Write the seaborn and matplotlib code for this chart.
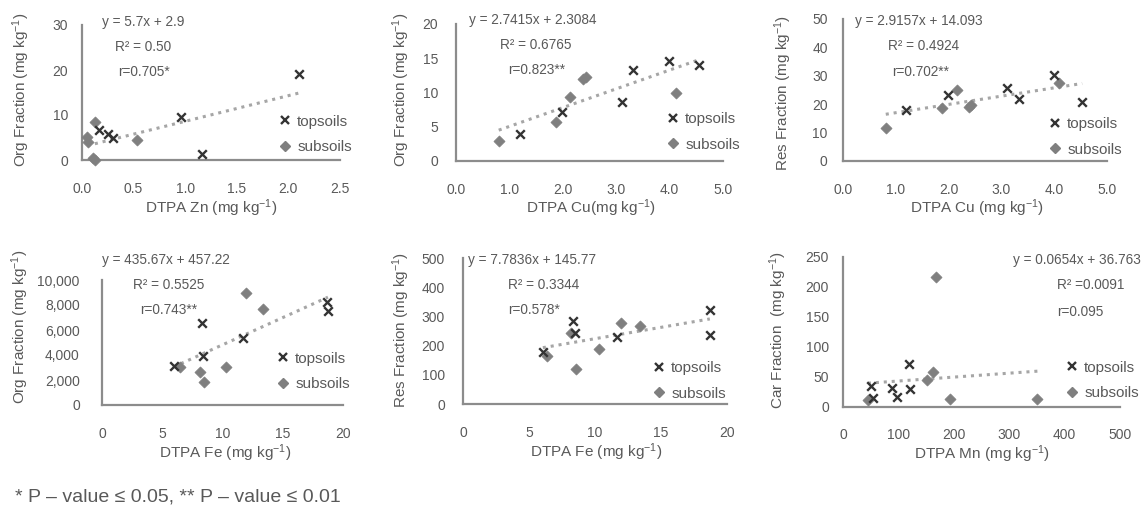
import numpy as np
import pandas as pd
import matplotlib
matplotlib.use("Agg")
import matplotlib.pyplot as plt
import matplotlib.transforms as mtransforms
from matplotlib.lines import Line2D
import seaborn as sns

# ---------------- data ----------------
layers = ["topsoils", "subsoils"]

zn_top_x = [0.16, 0.25, 0.30, 0.96, 1.16, 2.10]
zn_top_y = [6.7, 5.8, 4.9, 9.5, 1.3, 19.1]
zn_sub_x = [0.05, 0.06, 0.11, 0.13, 0.13, 0.53]
zn_sub_y = [5.1, 4.0, 0.5, 8.4, 0.0, 4.4]

cuo_top_x = [1.19, 1.99, 3.11, 3.31, 3.99, 4.55]
cuo_top_y = [3.9, 7.2, 8.6, 13.3, 14.6, 14.0]
cuo_sub_x = [0.80, 1.88, 2.14, 2.38, 2.43, 4.12]
cuo_sub_y = [2.9, 5.7, 9.3, 12.0, 12.3, 9.9]

cur_top_x = [1.19, 1.99, 3.11, 3.33, 4.00, 4.53]
cur_top_y = [17.9, 23.2, 25.7, 22.0, 30.4, 20.8]
cur_sub_x = [0.81, 1.88, 2.16, 2.38, 2.43, 4.09]
cur_sub_y = [11.6, 18.5, 24.9, 19.0, 19.6, 27.3]

feo_top_x = [5.95, 8.30, 8.40, 11.70, 18.70, 18.75]
feo_top_y = [3120, 6530, 3920, 5390, 8270, 7520]
feo_sub_x = [6.45, 8.15, 8.45, 10.30, 11.95, 13.40]
feo_sub_y = [3010, 2670, 1870, 3070, 8990, 7650]

fer_top_x = [6.05, 8.30, 8.50, 11.70, 18.70, 18.70]
fer_top_y = [178, 284, 244, 230, 322, 238]
fer_sub_x = [6.40, 8.20, 8.55, 10.30, 11.95, 13.40]
fer_sub_y = [163, 244, 121, 187, 276, 267]

mn_top_x = [51, 54, 88, 97, 119, 121]
mn_top_y = [35, 15, 32, 17, 72, 30]
mn_sub_x = [45, 152, 162, 168, 193, 351]
mn_sub_y = [12, 45, 58, 216, 13, 13]

slopes = [5.7, 2.7415, 2.9157, 435.67, 7.7836, 0.0654]
intercepts = [2.9, 2.3084, 14.093, 457.22, 145.77, 36.763]
eq_texts = ["y = 5.7x + 2.9", "y = 2.7415x + 2.3084", "y = 2.9157x + 14.093",
            "y = 435.67x + 457.22", "y = 7.7836x + 145.77", "y = 0.0654x + 36.763"]
r2_texts = ["R² = 0.50", "R² = 0.6765", "R² = 0.4924",
            "R² = 0.5525", "R² = 0.3344", "R² =0.0091"]
r_texts = ["r=0.705*", "r=0.823**", "r=0.702**", "r=0.743**", "r=0.578*", "r=0.095"]

x_labels = ["DTPA Zn (mg kg$^{-1}$)", "DTPA Cu(mg kg$^{-1}$)", "DTPA Cu (mg kg$^{-1}$)",
            "DTPA Fe (mg kg$^{-1}$)", "DTPA Fe (mg kg$^{-1}$)", "DTPA Mn (mg kg$^{-1}$)"]
y_labels = ["Org Fraction (mg kg$^{-1}$)", "Org Fraction (mg kg$^{-1}$)", "Res Fraction (mg kg$^{-1}$)",
            "Org Fraction (mg kg$^{-1}$)", "Res Fraction (mg kg$^{-1}$)", "Car Fraction  (mg kg$^{-1}$)"]

x_ticks = [[0.0, 0.5, 1.0, 1.5, 2.0, 2.5], [0, 1, 2, 3, 4, 5], [0, 1, 2, 3, 4, 5],
           [0, 5, 10, 15, 20], [0, 5, 10, 15, 20], [0, 100, 200, 300, 400, 500]]
x_ticklabels = [["0.0", "0.5", "1.0", "1.5", "2.0", "2.5"],
                ["0.0", "1.0", "2.0", "3.0", "4.0", "5.0"],
                ["0.0", "1.0", "2.0", "3.0", "4.0", "5.0"],
                ["0", "5", "10", "15", "20"], ["0", "5", "10", "15", "20"],
                ["0", "100", "200", "300", "400", "500"]]
y_ticks = [[0, 10, 20, 30], [0, 5, 10, 15, 20], [0, 10, 20, 30, 40, 50],
           [0, 2000, 4000, 6000, 8000, 10000], [0, 100, 200, 300, 400, 500],
           [0, 50, 100, 150, 200, 250]]
y_ticklabels = [["0", "10", "20", "30"], ["0", "5", "10", "15", "20"],
                ["0", "10", "20", "30", "40", "50"],
                ["0", "2,000", "4,000", "6,000", "8,000", "10,000"],
                ["0", "100", "200", "300", "400", "500"],
                ["0", "50", "100", "150", "200", "250"]]
footnote = "* P – value ≤ 0.05, ** P – value ≤ 0.01"

panels = [
    (zn_top_x, zn_top_y, zn_sub_x, zn_sub_y),
    (cuo_top_x, cuo_top_y, cuo_sub_x, cuo_sub_y),
    (cur_top_x, cur_top_y, cur_sub_x, cur_sub_y),
    (feo_top_x, feo_top_y, feo_sub_x, feo_sub_y),
    (fer_top_x, fer_top_y, fer_sub_x, fer_sub_y),
    (mn_top_x, mn_top_y, mn_sub_x, mn_sub_y),
]

# ---------------- layout (pixels, top-left origin) ----------------
W, H = 1145, 508
axes_px = [(82, 340, 25, 160), (456, 723, 24, 161), (843, 1107, 19, 161),
           (102, 343, 280, 405), (463, 727, 258, 404), (843, 1120, 257, 407)]
ytick_pad = [10, 13, 11, 16, 13, 10]
xtick_pad = [16, 16, 16, 16, 16, 15]
xlabel_pos = [(211, 208), (591, 208), (977, 208), (225, 453), (596, 452), (982, 454)]
ylabel_pos = [(21, 90), (401, 90), (783, 93), (20, 327), (401, 330), (778, 330)]
eq_pos = [[(102, 22), (115, 47), (118, 72)],
          [(469, 20), (500, 45), (508, 70)],
          [(855, 21), (888, 46), (892, 72)],
          [(102, 260), (133, 285), (140, 310)],
          [(468, 260), (508, 285), (508, 310)],
          [(1013, 260), (1057, 285), (1057, 312)]]
legend_pos = [(285, 134.5), (673, 132), (1055, 137), (283, 371.5), (659, 381), (1072, 380.5)]

sns.set_theme(style="white")
plt.rcParams["font.family"] = ["Liberation Sans", "DejaVu Sans"]
plt.rcParams["mathtext.fontset"] = "custom"
plt.rcParams["mathtext.rm"] = "Liberation Sans"
plt.rcParams["mathtext.it"] = "Liberation Sans:italic"
plt.rcParams["mathtext.bf"] = "Liberation Sans:bold"

TXT = "#595959"
SPINE = "#8c8c8c"
TOP_C = "#333333"
SUB_C = "#7f7f7f"
LINE_C = "#a6a6a6"

fig = plt.figure(figsize=(W / 100, H / 100), dpi=100)
pxT = mtransforms.Affine2D().scale(1 / W, -1 / H).translate(0, 1) + fig.transFigure

for i, (tx, ty, sx, sy) in enumerate(panels):
    l, r, t, b = axes_px[i]
    ax = fig.add_axes([l / W, 1 - b / H, (r - l) / W, (b - t) / H])
    ax.patch.set_alpha(0)
    df = pd.DataFrame({
        "x": list(tx) + list(sx),
        "y": list(ty) + list(sy),
        "layer": ["topsoils"] * len(tx) + ["subsoils"] * len(sx),
    })
    dtop = df[df.layer == "topsoils"]
    dsub = df[df.layer == "subsoils"]
    sns.scatterplot(data=dsub, x="x", y="y", marker="D", color=SUB_C, s=32,
                    edgecolor=SUB_C, linewidth=0.5, ax=ax, clip_on=False, zorder=3, legend=False)
    sns.scatterplot(data=dtop, x="x", y="y", marker="x", color=TOP_C, s=38,
                    linewidth=1.7, ax=ax, clip_on=False, zorder=4, legend=False)
    # trend line from published equation over data range
    xs = np.array([df.x.min(), df.x.max()])
    ax.plot(xs, slopes[i] * xs + intercepts[i], color=LINE_C, lw=2.2,
            ls=(0, (1, 1.6)), zorder=2, clip_on=False)

    ax.set_xlim(x_ticks[i][0], x_ticks[i][-1])
    ax.set_ylim(y_ticks[i][0], y_ticks[i][-1])
    ax.set_xticks(x_ticks[i], x_ticklabels[i])
    ax.set_yticks(y_ticks[i], y_ticklabels[i])
    ax.tick_params(axis="x", length=0, pad=xtick_pad[i], labelsize=10, labelcolor=TXT)
    ax.tick_params(axis="y", length=0, pad=ytick_pad[i], labelsize=10, labelcolor=TXT)
    for s in ["top", "right"]:
        ax.spines[s].set_visible(False)
    for s in ["left", "bottom"]:
        ax.spines[s].set_color(SPINE)
        ax.spines[s].set_linewidth(1.6)
    ax.grid(False)

    ax.set_xlabel(x_labels[i], fontsize=11, color=TXT, va="center", ha="center")
    ax.set_ylabel(y_labels[i], fontsize=11, color=TXT, va="center", ha="center")
    ax.xaxis.set_label_coords(*xlabel_pos[i], transform=pxT)
    ax.yaxis.set_label_coords(*ylabel_pos[i], transform=pxT)

    for txt, (px, py) in zip([eq_texts[i], r2_texts[i], r_texts[i]], eq_pos[i]):
        fig.text(px / W, 1 - py / H, txt, fontsize=9.8, color=TXT, ha="left", va="center")

    handles = [Line2D([], [], ls="none", marker="x", color=TOP_C, markersize=6, mew=1.7),
               Line2D([], [], ls="none", marker="D", color=SUB_C, markersize=5)]
    fs_px = 11 * 100 / 72
    lx, ly = legend_pos[i]
    leg = ax.legend(handles, layers, loc="center left",
                    bbox_to_anchor=((lx - 0.5 * fs_px) / W, 1 - ly / H),
                    bbox_transform=fig.transFigure, frameon=False, fontsize=11,
                    borderpad=0, borderaxespad=0, handlelength=1.0, handletextpad=0.3,
                    labelspacing=0.75)
    for tt in leg.get_texts():
        tt.set_color(TXT)

fig.text(15 / W, 1 - 497 / H, footnote, fontsize=14, color=TXT, ha="left", va="center")

fig.savefig("out.png", dpi=100)
